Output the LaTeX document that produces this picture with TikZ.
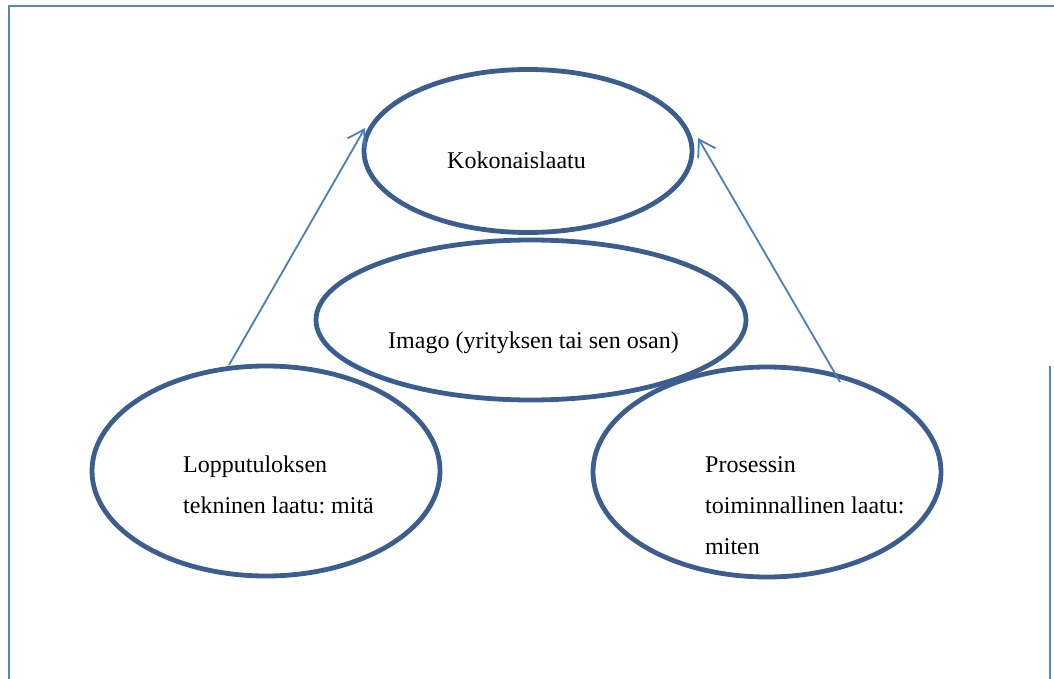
\documentclass[tikz,border=0pt]{standalone}
\usepackage{fontspec}
\setmainfont{Liberation Serif}
\usetikzlibrary{shapes.geometric,arrows.meta}
\definecolor{ellc}{HTML}{3B5E8E}
\definecolor{arrc}{HTML}{4A7EBB}
\definecolor{framec}{HTML}{5585C2}
\begin{document}
\frenchspacing
\begin{tikzpicture}[x=1pt,y=-1pt,
  oval/.style={draw=ellc,line width=4.8pt,ellipse,inner sep=0pt},
  lbl/.style={anchor=base west,inner sep=0pt,font=\fontsize{24}{41}\selectfont},
  link/.style={draw=arrc,line width=1.8pt,-{Straight Barb[length=16pt,width=20pt,line width=1.8pt]}},
  frame/.style={draw=framec,line width=2.4pt}]
\useasboundingbox (0,0) rectangle (1054,679);
% frame
\draw[frame] (9,679) -- (9,6) -- (1054,6);
\draw[frame] (1050,366) -- (1050,679);
% ellipses
\node[oval,minimum width=328pt,minimum height=163pt] (koko) at (528,151) {};
\node[oval,minimum width=430pt,minimum height=160pt] (imago) at (531,320) {};
\node[oval,minimum width=348pt,minimum height=210pt] (loppu) at (266,471) {};
\node[oval,minimum width=348pt,minimum height=210pt] (pros) at (767,472) {};
% texts
\node[lbl] (tkoko) at (447,168) {Kokonaislaatu};
\node[lbl] (timago) at (388,348) {Imago (yrityksen tai sen osan)};
\node[lbl] (tl1) at (183,472) {Lopputuloksen};
\node[lbl] (tl2) at (183,513) {tekninen laatu: mitä};
\node[lbl] (tp1) at (705,472) {Prosessin};
\node[lbl] (tp2) at (705,513) {toiminnallinen laatu:};
\node[lbl] (tp3) at (705,554) {miten};
% arrows
\coordinate (a1s) at (229,365);
\coordinate (a1e) at (365,128);
\coordinate (a2s) at (840,382);
\coordinate (a2e) at (698,138);
\draw[link] (a1s) -- (a1e);
\draw[link] (a2s) -- (a2e);
\end{tikzpicture}
\end{document}
